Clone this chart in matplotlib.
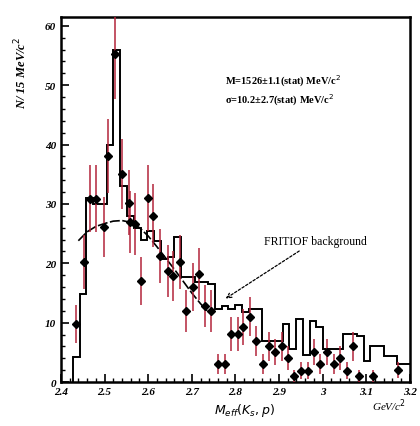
import numpy as np
import matplotlib
matplotlib.use("Agg")
import matplotlib.pyplot as plt

# data points (mass, counts, error)
mass = [2.434, 2.452, 2.466, 2.480, 2.498, 2.509, 2.525, 2.541, 2.555, 2.559,
        2.570, 2.584, 2.600, 2.611, 2.627, 2.645, 2.657, 2.672, 2.687, 2.702,
        2.717, 2.730, 2.744, 2.759, 2.775, 2.789, 2.805, 2.818, 2.834, 2.848,
        2.864, 2.877, 2.891, 2.907, 2.920, 2.934, 2.950, 2.966, 2.980, 2.995,
        3.009, 3.025, 3.039, 3.055, 3.070, 3.084, 3.116, 3.173]
counts = [9.8, 20.2, 30.9, 30.9, 26.1, 38.1, 55.3, 35.1, 30.2, 27.0,
          26.6, 17.0, 31.0, 28.0, 21.2, 18.7, 17.9, 20.2, 12.0, 16.0,
          18.2, 12.8, 12.0, 3.0, 3.0, 8.1, 8.1, 9.3, 11.0, 6.9,
          3.0, 6.0, 5.0, 6.0, 4.0, 1.0, 1.9, 1.9, 5.0, 3.0,
          5.0, 3.0, 4.0, 1.9, 6.0, 1.0, 1.0, 2.0]
errors = [3.2, 4.5, 5.6, 5.6, 5.1, 6.2, 7.6, 5.9, 5.5, 5.2,
          5.2, 4.1, 5.6, 5.3, 4.6, 4.3, 4.2, 4.5, 3.5, 4.0,
          4.3, 3.6, 3.5, 1.7, 1.7, 2.8, 2.8, 3.0, 3.3, 2.6,
          1.7, 2.4, 2.2, 2.4, 2.0, 1.0, 1.4, 1.4, 2.2, 1.7,
          2.2, 1.7, 2.0, 1.4, 2.4, 1.0, 1.0, 1.4]

# FRITIOF background histogram
hist_edges = [2.4275, 2.443, 2.4585, 2.474, 2.4895, 2.505, 2.5205, 2.536, 2.5515,
              2.567, 2.5825, 2.598, 2.6135, 2.629, 2.6445, 2.66, 2.6755, 2.691,
              2.7065, 2.722, 2.7375, 2.753, 2.7685, 2.784, 2.7995, 2.815, 2.8305,
              2.846, 2.8615, 2.877, 2.8925, 2.908, 2.9235, 2.939, 2.9545, 2.97,
              2.9855, 3.001, 3.0165, 3.032, 3.0475, 3.063, 3.0785, 3.094, 3.1095,
              3.125, 3.1405, 3.156, 3.1715, 3.187, 3.2025]
hist_vals = [4.2, 14.8, 31.0, 30.0, 30.0, 40.0, 56.0, 33.0, 28.0, 26.0,
             24.0, 25.5, 23.8, 20.7, 21.0, 24.5, 17.7, 17.7, 16.9, 16.9,
             16.5, 12.3, 12.8, 12.3, 13.0, 11.8, 12.3, 12.3, 6.9, 6.9,
             6.9, 9.8, 5.6, 10.6, 4.5, 10.3, 9.3, 5.6, 5.6, 5.6,
             8.1, 8.1, 7.8, 3.5, 6.1, 6.1, 4.4, 4.4, 3.0, 3.0]

# fitted background curve
fit_x = [2.440, 2.460, 2.480, 2.500, 2.520, 2.540, 2.560, 2.580, 2.600,
         2.620, 2.640, 2.660, 2.680, 2.700, 2.720, 2.735]
fit_y = [23.8, 25.3, 26.2, 26.7, 27.1, 27.2, 26.9, 26.0, 24.6,
         22.8, 20.9, 19.0, 17.0, 15.0, 13.2, 12.0]

xticks = [2.4, 2.5, 2.6, 2.7, 2.8, 2.9, 3.0, 3.1, 3.2]
xlabels = ["2.4", "2.5", "2.6", "2.7", "2.8", "2.9", "3", "3.1", "3.2"]
yticks = [0, 10, 20, 30, 40, 50, 60]

serif = "Liberation Serif"
red = "#b3243a"

fig = plt.figure(figsize=(4.2, 4.27), dpi=100)
ax = fig.add_axes([0.145, 0.103, 0.831, 0.855])

ax.stairs(hist_vals, hist_edges, color="black", lw=1.4, baseline=None)
ax.plot(hist_edges[:1] * 2, [0, hist_vals[0]], color="black", lw=1.4)
ax.plot(fit_x, fit_y, color="black", lw=1.2, ls=(0, (6, 1.5)))
ax.errorbar(mass, counts, yerr=errors, fmt="D", ms=4.5, color="black",
            ecolor=red, elinewidth=1.1, capsize=0, zorder=3)

ax.set_xlim(2.4, 3.2)
ax.set_ylim(0, 61.5)
ax.set_xticks(xticks)
ax.set_xticklabels(xlabels)
ax.set_yticks(yticks)
ax.set_xticks(np.arange(2.4, 3.2, 0.02), minor=True)
ax.set_yticks(np.arange(0, 61, 2), minor=True)
ax.tick_params(direction="in", length=6, width=1.2, top=False, right=False,
               labelsize=8)
ax.tick_params(which="minor", direction="in", length=3, width=1)
for lab in ax.get_xticklabels() + ax.get_yticklabels():
    lab.set_fontfamily(serif)
    lab.set_fontweight("bold")
    lab.set_fontstyle("italic")
for s in ax.spines.values():
    s.set_linewidth(1.8)

ax.set_ylabel("N/ 15 MeV/c$^2$", family=serif, weight="bold", style="italic",
              fontsize=9)
ax.yaxis.set_label_coords(-0.09, 0.85)
ax.text(2.82, -4.6, r"$M_{eff}(K_s,p)$", fontsize=9, family=serif,
        style="italic", ha="center", va="center")
ax.text(3.19, -3.9, "GeV/c$^2$", fontsize=8, family=serif, style="italic",
        ha="right", va="center")

ax.text(2.775, 50.3, "M=1526\u00b11.1(stat) MeV/c$^2$", fontsize=7.5,
        family=serif, weight="bold")
ax.text(2.775, 47.0, "\u03c3=10.2\u00b12.7(stat) MeV/c$^2$", fontsize=7.5,
        family=serif, weight="bold")

ax.annotate("FRITIOF background", xy=(2.772, 13.8), xytext=(2.865, 23.8),
            fontsize=8.5, family=serif, va="center",
            arrowprops=dict(arrowstyle="->", color="black", lw=0.9,
                            ls=(0, (2, 1.5))))

fig.savefig("out.png", dpi=100)
